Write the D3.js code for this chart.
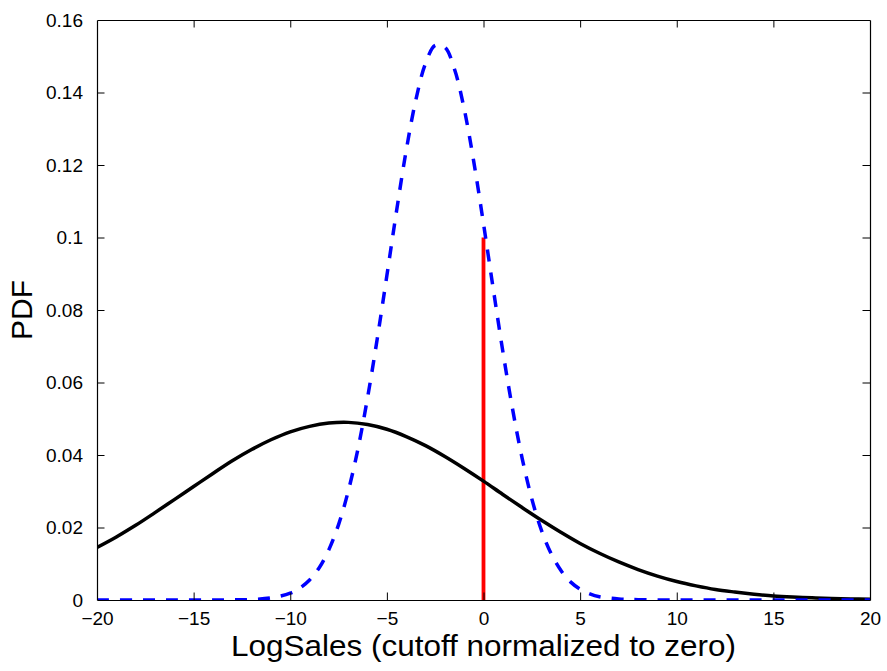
<!DOCTYPE html>
<html>
<head>
<meta charset="utf-8">
<script src="https://cdn.jsdelivr.net/npm/d3@7"></script>
<style>
  html, body { margin: 0; padding: 0; background: #fff; }
  svg { display: block; }
  text { font-family: "Liberation Sans", Arial, Helvetica, sans-serif; fill: #000; }
</style>
</head>
<body>
<svg id="chart" width="887" height="671"></svg>
<script>
// ---- data ----
const blackX = [-20,-19,-18,-17,-16,-15,-14,-13,-12,-11,-10,-9,-8,-7,-6,-5,-4,-3,-2,-1,0,1,2,3,4,5,6,7,8,9,10,11,12,13,14,15,16,17,18,19,20];
const blackY = [0.0145,0.0174,0.0206,0.0241,0.0277,0.0313,0.0349,0.0384,0.0415,0.0442,0.0464,0.0479,0.0488,0.0490,0.0484,0.0471,0.0451,0.0426,0.0396,0.0363,0.0328,0.0291,0.0255,0.0220,0.0187,0.0156,0.0129,0.0105,0.0084,0.0066,0.0051,0.0039,0.0029,0.0022,0.0016,0.0011,0.0008,0.0006,0.0004,0.0003,0.0002];

const blueX = [-20,-18,-16,-14,-13,-12,-11,-10,-9.5,-9,-8.5,-8,-7.5,-7,-6.5,-6,-5.5,-5,-4.5,-4,-3.5,-3,-2.5,-2,-1.5,-1,-0.5,0,0.5,1,1.5,2,2.5,3,3.5,4,4.5,5,5.5,6,7,8,10,12,14,16,18,20];
const blueY = [0,0,0,0,0.00003,0.00015,0.00057,0.0019,0.0033,0.0055,0.0089,0.0139,0.0208,0.0300,0.0416,0.0558,0.0720,0.0895,0.1073,0.1240,0.1380,0.1480,0.1530,0.1525,0.1464,0.1355,0.1208,0.1038,0.0860,0.0686,0.0528,0.0391,0.0279,0.0192,0.0128,0.0082,0.0050,0.0030,0.0017,0.0009,0.0003,0.0001,0,0,0,0,0,0];

const cutoffX = [0, 0];
const cutoffY = [0, 0.1];

const xTicks = [-20,-15,-10,-5,0,5,10,15,20];
const xTickLabels = ["\u221220","\u221215","\u221210","\u22125","0","5","10","15","20"];
const yTicks = [0,0.02,0.04,0.06,0.08,0.1,0.12,0.14,0.16];
const yTickLabels = ["0","0.02","0.04","0.06","0.08","0.1","0.12","0.14","0.16"];

const xLabel = "LogSales (cutoff normalized to zero)";
const yLabel = "PDF";

// ---- layout ----
const svg = d3.select("#chart");
const L = 97, R = 870, T = 20, B = 600;
const x = d3.scaleLinear().domain([-20, 20]).range([L, R]);
const y = d3.scaleLinear().domain([0, 0.16]).range([B, T]);
const tickLen = 7.5;

svg.append("defs").append("clipPath").attr("id", "clip")
  .append("rect").attr("x", L).attr("y", T - 2).attr("width", R - L).attr("height", B - T + 2);

const plot = svg.append("g").attr("clip-path", "url(#clip)");
const line = d3.line().curve(d3.curveCatmullRom.alpha(0.5));

plot.append("path")
  .attr("d", line(cutoffX.map((v, i) => [x(v), y(cutoffY[i])])))
  .attr("stroke", "#ff0000").attr("stroke-width", 3.8).attr("fill", "none");

plot.append("path")
  .attr("d", line(blackX.map((v, i) => [x(v), y(blackY[i])])))
  .attr("stroke", "#000").attr("stroke-width", 3.5).attr("fill", "none");

plot.append("path")
  .attr("d", line(blueX.map((v, i) => [x(v), y(blueY[i])])))
  .attr("stroke", "#0000ff").attr("stroke-width", 3.5).attr("fill", "none")
  .attr("stroke-dasharray", "12,11");

// ---- axes (MATLAB-like box with inward ticks on all sides) ----
const axBottom = d3.axisBottom(x).tickValues(xTicks).tickSizeInner(-tickLen).tickSizeOuter(0)
  .tickFormat((d, i) => xTickLabels[i]).tickPadding(12);
const gB = svg.append("g").attr("transform", `translate(0,${B})`).call(axBottom);

const axTop = d3.axisTop(x).tickValues(xTicks).tickSizeInner(-tickLen).tickSizeOuter(0).tickFormat("");
const gT = svg.append("g").attr("transform", `translate(0,${T})`).call(axTop);

const axLeft = d3.axisLeft(y).tickValues(yTicks).tickSizeInner(-tickLen).tickSizeOuter(0)
  .tickFormat((d, i) => yTickLabels[i]).tickPadding(14);
const gL = svg.append("g").attr("transform", `translate(${L},0)`).call(axLeft);

const axRight = d3.axisRight(y).tickValues(yTicks).tickSizeInner(-tickLen).tickSizeOuter(0).tickFormat("");
const gR = svg.append("g").attr("transform", `translate(${R},0)`).call(axRight);

[gB, gT, gL, gR].forEach(g => {
  g.selectAll(".domain").attr("stroke", "#000").attr("stroke-width", 1.2);
  g.selectAll(".tick line").attr("stroke", "#000").attr("stroke-width", 1);
  g.selectAll("text").attr("font-family", "Liberation Sans, Arial, sans-serif").attr("font-size", 19).attr("fill", "#000");
});
// remove tick marks at the box corners
[gB, gT].forEach(g => g.selectAll(".tick").filter(d => d === -20 || d === 20).select("line").remove());
[gL, gR].forEach(g => g.selectAll(".tick").filter(d => d === 0 || d === 0.16).select("line").remove());

// ---- axis labels ----
svg.append("text")
  .attr("x", (L + R) / 2).attr("y", 656)
  .attr("text-anchor", "middle")
  .attr("font-size", 30)
  .attr("textLength", 505)
  .attr("lengthAdjust", "spacingAndGlyphs")
  .text(xLabel);

svg.append("text")
  .attr("transform", `translate(32,${(T + B) / 2}) rotate(-90)`)
  .attr("text-anchor", "middle")
  .attr("font-size", 30)
  .text(yLabel);
</script>
</body>
</html>
